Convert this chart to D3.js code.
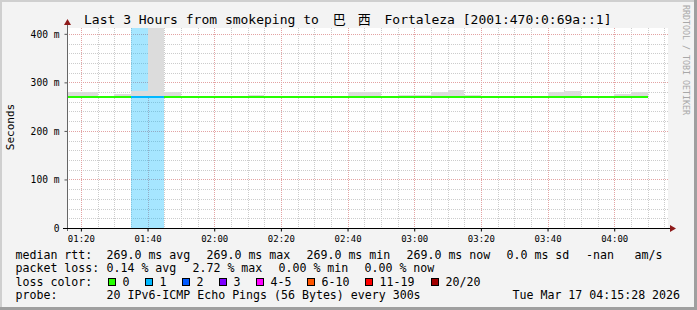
<!DOCTYPE html>
<html>
<head>
<meta charset="utf-8">
<script src="https://cdn.jsdelivr.net/npm/d3@7"></script>
<style>
body { margin: 0; background: #fff; }
text { font-family: "DejaVu Sans Mono", monospace; white-space: pre; }
</style>
</head>
<body>
<script>
// 5 minute buckets (start time), smoke range, median and lost pings out of 20
var times = ["01:15","01:20","01:25","01:30","01:35","01:40","01:45","01:50","01:55","02:00",
             "02:05","02:10","02:15","02:20","02:25","02:30","02:35","02:40","02:45","02:50",
             "02:55","03:00","03:05","03:10","03:15","03:20","03:25","03:30","03:35","03:40",
             "03:45","03:50","03:55","04:00","04:05"];
var smokeHi = [280,280,269,276,282,600,280,269,269,269,
               272,274,272,269,269,269,269,280,280,272,
               274,274,280,285,274,269,269,269,269,280,
               282,269,269,276,280];
var smokeLo = [268.8,268.8,268.8,268.8,268.8,268.8,268.8,268.8,268.8,268.8,
               268.8,268.8,268.8,268.8,268.8,268.8,268.8,268.8,268.8,268.8,
               268.8,268.8,268.8,268.8,268.8,268.8,268.8,268.8,268.8,268.8,
               268.8,268.8,268.8,268.8,268.8];
var median = [269,269,269,269,269,269,269,269,269,269,
              269,269,269,269,269,269,269,269,269,269,
              269,269,269,269,269,269,269,269,269,269,
              269,269,269,269,269];
var lost = [0,0,0,0,1,1,0,0,0,0,
            0,0,0,0,0,0,0,0,0,0,
            0,0,0,0,0,0,0,0,0,0,
            0,0,0,0,0];

var yTicks = [0,100,200,300,400];
var yTickLabels = ["0","100 m","200 m","300 m","400 m"];
var xTickLabels = ["01:20","01:40","02:00","02:20","02:40","03:00","03:20","03:40","04:00"];

var lossLabels = ["0","1","2","3","4-5","6-10","11-19","20/20"];
var lossMax = [0,1,2,3,5,10,19,20];
var lossColors = ["#26ff00","#00b8ff","#0059ff","#7e00ff","#ff00ff","#ff5500","#ff0000","#a10000"];

var rttStats = ["269.0 ms avg","269.0 ms max","269.0 ms min","269.0 ms now","0.0 ms sd","-nan","am/s"];
var lossStats = ["0.14 % avg","2.72 % max","0.00 % min","0.00 % now"];
var probeText = "20 IPv6-ICMP Echo Pings (56 Bytes) every 300s";
var stampText = "Tue Mar 17 04:15:28 2026";
var titleParts = ["Last 3 Hours from smokeping to ", "巴", "西", " Fortaleza [2001:470:0:69a::1]"];

var W = 697, H = 310;
var pLeft = 67, pRight = 667, pTop = 28, pBottom = 228;

var day = "2026-03-17 ";
var parse = d3.utcParse("%Y-%m-%d %H:%M:%S");
var x = d3.scaleUtc()
    .domain([parse(day + "01:15:50"), parse(day + "04:15:50")])
    .range([pLeft, pRight]);
var y = d3.scaleLinear().domain([0, 412]).range([pBottom, pTop]);

function t0(s) { return parse(day + s + ":00"); }
function t1(s) { return d3.utcMinute.offset(t0(s), 5); }
function lossColor(n) { return lossColors[lossMax.findIndex(function(m) { return n <= m; })]; }

var svg = d3.select("body").append("svg").attr("width", W).attr("height", H);

// frame
svg.append("rect").attr("width", W).attr("height", H).attr("fill", "#f3f3f3");
svg.append("rect").attr("x", 0).attr("y", 0).attr("width", W).attr("height", 2).attr("fill", "#cfcfcf");
svg.append("rect").attr("x", 0).attr("y", 0).attr("width", 2).attr("height", H).attr("fill", "#cfcfcf");
svg.append("rect").attr("x", W - 3).attr("y", 0).attr("width", 3).attr("height", H).attr("fill", "#9f9f9f");
svg.append("rect").attr("x", 0).attr("y", H - 3).attr("width", W).attr("height", 3).attr("fill", "#9f9f9f");

svg.append("rect").attr("x", pLeft).attr("y", pTop).attr("width", pRight - pLeft + 1).attr("height", pBottom - pTop)
    .attr("fill", "#fff");

// grid
var minorT = d3.utcMinute.every(5).range(x.domain()[0], x.domain()[1]);
var majorT = xTickLabels.map(function(s) { return t0(s); });
var grid = svg.append("g").attr("stroke-dasharray", "1,1").attr("shape-rendering", "crispEdges");
grid.selectAll(".vmin").data(minorT).enter().append("line")
    .attr("x1", function(d) { return Math.round(x(d)) + 0.5; })
    .attr("x2", function(d) { return Math.round(x(d)) + 0.5; })
    .attr("y1", pTop).attr("y2", pBottom).attr("stroke", "#cccccc");
grid.selectAll(".hmin").data(d3.range(20, 412, 20)).enter().append("line")
    .attr("x1", pLeft).attr("x2", pRight + 2)
    .attr("y1", function(d) { return Math.round(y(d)) + 0.5; })
    .attr("y2", function(d) { return Math.round(y(d)) + 0.5; })
    .attr("stroke", "#cccccc");
grid.selectAll(".vmaj").data(majorT).enter().append("line")
    .attr("x1", function(d) { return Math.round(x(d)) + 0.5; })
    .attr("x2", function(d) { return Math.round(x(d)) + 0.5; })
    .attr("y1", pTop).attr("y2", pBottom).attr("stroke", "#e3a3a3");
grid.selectAll(".hmaj").data(yTicks.slice(1)).enter().append("line")
    .attr("x1", pLeft).attr("x2", pRight + 2)
    .attr("y1", function(d) { return Math.round(y(d)) + 0.5; })
    .attr("y2", function(d) { return Math.round(y(d)) + 0.5; })
    .attr("stroke", "#e3a3a3");

// data
svg.append("clipPath").attr("id", "plot").append("rect")
    .attr("x", pLeft).attr("y", pTop).attr("width", pRight - pLeft).attr("height", pBottom - pTop);
var g = svg.append("g").attr("clip-path", "url(#plot)").attr("shape-rendering", "crispEdges");

g.selectAll(".lossbg").data(times.filter(function(d, i) { return lost[i] > 0; })).enter().append("rect")
    .attr("x", function(d) { return x(t0(d)); })
    .attr("width", function(d) { return x(t1(d)) - x(t0(d)); })
    .attr("y", pTop).attr("height", pBottom - pTop)
    .attr("fill", function(d) { return lossColor(lost[times.indexOf(d)]); })
    .attr("fill-opacity", 0.35);

g.selectAll(".smoke").data(times).enter().append("rect")
    .attr("x", function(d) { return x(t0(d)); })
    .attr("width", function(d) { return x(t1(d)) - x(t0(d)); })
    .attr("y", function(d, i) { return y(smokeHi[i]); })
    .attr("height", function(d, i) { return y(smokeLo[i]) - y(smokeHi[i]); })
    .attr("fill", "#dcdcdc");

g.selectAll(".med").data(times).enter().append("line")
    .attr("x1", function(d) { return x(t0(d)); })
    .attr("x2", function(d) { return x(t1(d)); })
    .attr("y1", function(d, i) { return y(median[i]); })
    .attr("y2", function(d, i) { return y(median[i]); })
    .attr("stroke", function(d, i) { return lossColor(lost[i]); })
    .attr("stroke-width", 2);

// axes
var yAxis = d3.axisLeft(y).tickValues(yTicks).tickSize(3).tickPadding(5)
    .tickFormat(function(d, i) { return yTickLabels[i]; });
var ya = svg.append("g").attr("transform", "translate(" + (pLeft + 0.5) + ",0)").call(yAxis);
ya.select(".domain").remove();
ya.selectAll("line").attr("stroke", "#555");
ya.selectAll("text").attr("font-family", "DejaVu Sans Mono").attr("font-size", "9.6px").attr("fill", "#000")
    .attr("dy", "0.34em");

var xAxis = d3.axisBottom(x).tickValues(majorT).tickSize(3).tickPadding(4)
    .tickFormat(d3.utcFormat("%H:%M"));
var xa = svg.append("g").attr("transform", "translate(0," + (pBottom + 0.5) + ")").call(xAxis);
xa.select(".domain").remove();
xa.selectAll("line").attr("stroke", "#000");
xa.selectAll("text").attr("font-family", "DejaVu Sans Mono").attr("font-size", "9px").attr("fill", "#000");

svg.append("line").attr("x1", pLeft + 0.5).attr("x2", pLeft + 0.5).attr("y1", pBottom + 3).attr("y2", pTop - 5)
    .attr("stroke", "#666");
svg.append("line").attr("x1", pLeft - 4).attr("x2", pRight + 5).attr("y1", pBottom + 0.5).attr("y2", pBottom + 0.5)
    .attr("stroke", "#000");
svg.append("path").attr("d", "M" + (pLeft - 3) + "," + (pTop - 3) + "L" + (pLeft + 4) + "," + (pTop - 3) + "L" + (pLeft + 0.5) + "," + (pTop - 9) + "Z")
    .attr("fill", "#8e1a1a");
svg.append("path").attr("d", "M" + (pRight + 3) + "," + (pBottom - 3) + "L" + (pRight + 3) + "," + (pBottom + 4) + "L" + (pRight + 9) + "," + (pBottom + 0.5) + "Z")
    .attr("fill", "#8e1a1a");

// texts
var title = svg.append("text").attr("x", 84).attr("y", 24)
    .attr("font-size", "13px").attr("fill", "#000");
title.append("tspan").text(titleParts[0]);
title.append("tspan").attr("dx", 6).attr("font-family", "Noto Sans CJK SC").text(titleParts[1]);
title.append("tspan").attr("dx", 12).attr("font-family", "Noto Sans CJK SC").text(titleParts[2]);
title.append("tspan").attr("dx", 6).text(titleParts[3]);

svg.append("text").attr("transform", "translate(14,127) rotate(-90)").attr("text-anchor", "middle")
    .attr("font-size", "11px").attr("fill", "#000").text("Seconds");
svg.append("text").attr("transform", "translate(683,5) rotate(90)").attr("text-anchor", "start")
    .attr("font-size", "8.3px").attr("fill", "#a8a8a8").text("RRDTOOL / TOBI OETIKER");

var fs = "11.6px";
var rows = [258.5, 272, 285.5, 299];
var heads = ["median rtt:", "packet loss:", "loss color:", "probe:"];
svg.selectAll(".head").data(heads).enter().append("text")
    .attr("x", 15.5).attr("y", function(d, i) { return rows[i]; })
    .attr("font-size", fs).text(function(d) { return d; });

var rttX = [106.5, 206.5, 306.5, 406.5, 506.5, 586, 634.5];
svg.selectAll(".rtt").data(rttStats).enter().append("text")
    .attr("x", function(d, i) { return rttX[i]; }).attr("y", rows[0])
    .attr("font-size", fs).text(function(d) { return d; });
var lossX = [106.5, 192.5, 278.5, 364.5];
svg.selectAll(".loss").data(lossStats).enter().append("text")
    .attr("x", function(d, i) { return lossX[i]; }).attr("y", rows[1])
    .attr("font-size", fs).text(function(d) { return d; });

var sqX = [108.5, 145.5, 182.5, 219.5, 256.5, 307.5, 365.5, 431.5];
svg.selectAll(".sq").data(lossLabels).enter().append("rect")
    .attr("x", function(d, i) { return sqX[i]; }).attr("y", 278.5)
    .attr("width", 7).attr("height", 7)
    .attr("fill", function(d, i) { return lossColors[i]; }).attr("stroke", "#000");
svg.selectAll(".sqt").data(lossLabels).enter().append("text")
    .attr("x", function(d, i) { return sqX[i] + 14; }).attr("y", rows[2])
    .attr("font-size", fs).text(function(d) { return d; });

svg.append("text").attr("x", 106.5).attr("y", rows[3]).attr("font-size", fs).text(probeText);
svg.append("text").attr("x", 512.5).attr("y", rows[3]).attr("font-size", fs).text(stampText);
</script>
</body>
</html>
